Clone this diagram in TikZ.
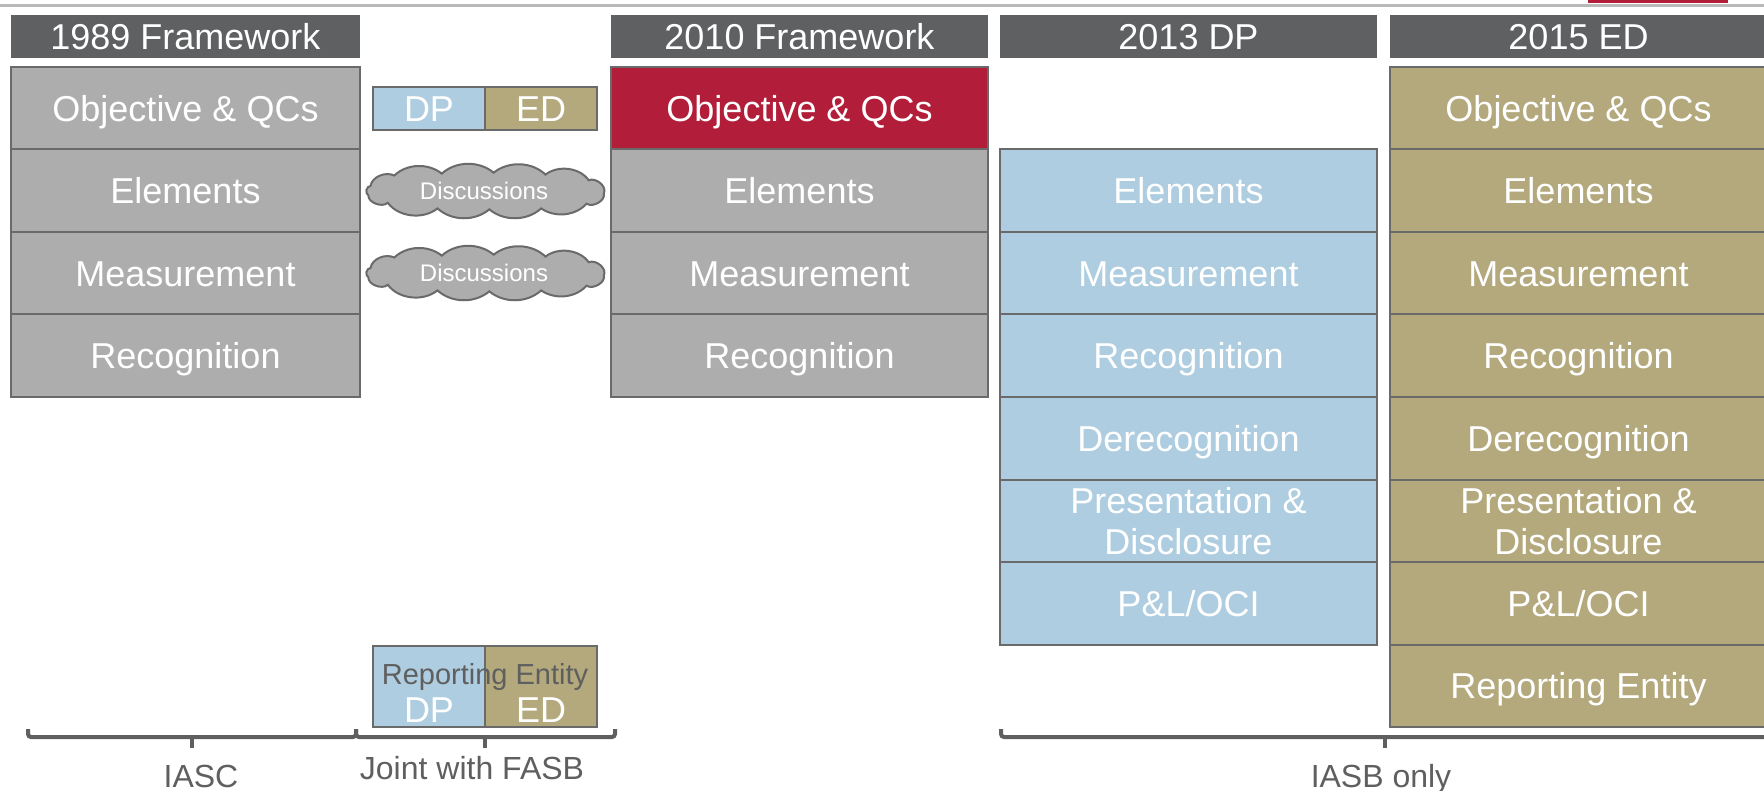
\documentclass[tikz,border=0pt]{standalone}
\usepackage{fontspec}
\setmainfont{Liberation Sans}
\definecolor{hdr}{HTML}{5F6062}
\definecolor{gry}{HTML}{ADADAD}
\definecolor{blu}{HTML}{AECDE0}
\definecolor{kha}{HTML}{B3A97D}
\definecolor{crim}{HTML}{B21E3A}
\definecolor{edge}{HTML}{6A6A6A}
\definecolor{txt}{HTML}{5F5F5F}
\begin{document}
\begin{tikzpicture}[x=1pt,y=-1pt,
    big/.style={font=\fontsize{36}{41}\selectfont},
    hd/.style={big,fill=hdr,text=white,minimum width=#1,minimum height=43pt,inner sep=0pt,text height=26pt,text depth=0pt},
    hd/.default=377pt,
    cell/.style={big,draw=edge,line width=2pt,minimum width=377pt,minimum height=82.5pt,inner sep=0pt,text=white},
    one/.style={cell,text height=26pt,text depth=0pt},
    two/.style={cell,align=center},
    tag/.style={cell,minimum width=112pt,text height=26pt,text depth=0pt},
    puff/.style={draw=edge,line width=2pt,fill=gry},
    talk/.style={text=white,inner sep=0pt,font=\fontsize{24}{28}\selectfont,text height=17pt,text depth=0pt},
    era/.style={text=txt,font=\fontsize{32}{36}\selectfont,text height=23pt,text depth=0pt,inner sep=0pt},
    brc/.style={draw=txt,line width=4pt,rounded corners=3pt}]
\useasboundingbox (0,0) rectangle (1764,791);
% slide top rule
\fill[gray!55] (0,4) rectangle (1764,7);
\fill[crim] (1588,0) rectangle (1728,3);
% headers
\node[hd=349pt](h1)at(185.5,36.5){1989 Framework};
\node[hd](h2)at(799.5,36.5){2010 Framework};
\node[hd](h3)at(1188.5,36.5){2013 DP};
\node[hd](h4)at(1578.5,36.5){2015 ED};
% 1989
\node[one,fill=gry,minimum width=349pt](a1)at(185.5,108.25){Objective \& QCs};
\node[one,fill=gry,minimum width=349pt](a2)at(185.5,190.75){Elements};
\node[one,fill=gry,minimum width=349pt](a3)at(185.5,273.25){Measurement};
\node[one,fill=gry,minimum width=349pt](a4)at(185.5,355.75){Recognition};
% joint work
\node[tag,fill=blu,minimum height=43pt](dp)at(429,108.5){DP};
\node[tag,fill=kha,minimum height=43pt](ed)at(541,108.5){ED};
\foreach \cy/\cn in {191.5/cl1,273.5/cl2}{
  \draw[puff,shift={(485,\cy)},xscale=1.08,yscale=0.94](-106,-6)to[bend left=55](-84,-17)to[bend left=45](-40,-19)
    to[bend left=45](8,-20)to[bend left=45](56,-18)to[bend left=50](96,-12)to[bend left=70](110,2)
    to[bend left=70](94,13)to[bend left=45](52,18)to[bend left=45](4,19)to[bend left=45](-44,18)
    to[bend left=50](-90,12)to[bend left=70](-108,4)to[bend left=70]cycle;
  \node[talk](\cn)at(484,\cy){Discussions};
}
\node[cell,fill=blu,minimum width=112pt,minimum height=81pt](rdp)at(429,686){};
\node[cell,fill=kha,minimum width=112pt,minimum height=81pt](red)at(541,686){};
\node[big,text=white,text height=26pt,text depth=0pt,inner sep=0pt](rdpt)at(429,709.5){DP};
\node[big,text=white,text height=26pt,text depth=0pt,inner sep=0pt](redt)at(541,709.5){ED};
\node[text=txt,font=\fontsize{29}{33}\selectfont,text height=21pt,text depth=0pt,inner sep=0pt](re)at(485,674){Reporting Entity};
% 2010
\node[one,fill=crim](b1)at(799.5,108.25){Objective \& QCs};
\node[one,fill=gry](b2)at(799.5,190.75){Elements};
\node[one,fill=gry](b3)at(799.5,273.25){Measurement};
\node[one,fill=gry](b4)at(799.5,355.75){Recognition};
% 2013 DP
\node[one,fill=blu](c2)at(1188.5,190.75){Elements};
\node[one,fill=blu](c3)at(1188.5,273.25){Measurement};
\node[one,fill=blu](c4)at(1188.5,355.75){Recognition};
\node[one,fill=blu](c5)at(1188.5,438.25){Derecognition};
\node[two,fill=blu](c6)at(1188.5,520.75){Presentation \&\\Disclosure};
\node[one,fill=blu](c7)at(1188.5,603.25){P\&L/OCI};
% 2015 ED
\node[one,fill=kha](d1)at(1578.5,108.25){Objective \& QCs};
\node[one,fill=kha](d2)at(1578.5,190.75){Elements};
\node[one,fill=kha](d3)at(1578.5,273.25){Measurement};
\node[one,fill=kha](d4)at(1578.5,355.75){Recognition};
\node[one,fill=kha](d5)at(1578.5,438.25){Derecognition};
\node[two,fill=kha](d6)at(1578.5,520.75){Presentation \&\\Disclosure};
\node[one,fill=kha](d7)at(1578.5,603.25){P\&L/OCI};
\node[one,fill=kha](d8)at(1578.5,685.75){Reporting Entity};
% braces
\draw[brc](28,729)--(28,737)--(356,737)--(356,729);
\draw[brc](192,737)--(192,748);
\draw[brc](356,729)--(356,737)--(615,737)--(615,729);
\draw[brc](485,737)--(485,748);
\draw[brc](1001,729)--(1001,737)--(1769,737)--(1769,729);
\draw[brc](1385,737)--(1385,748);
\node[era](l1)at(201,776){IASC};
\node[era](l2)at(472,768){Joint with FASB};
\node[era](l3)at(1381,776){IASB only};
\end{tikzpicture}
\end{document}
